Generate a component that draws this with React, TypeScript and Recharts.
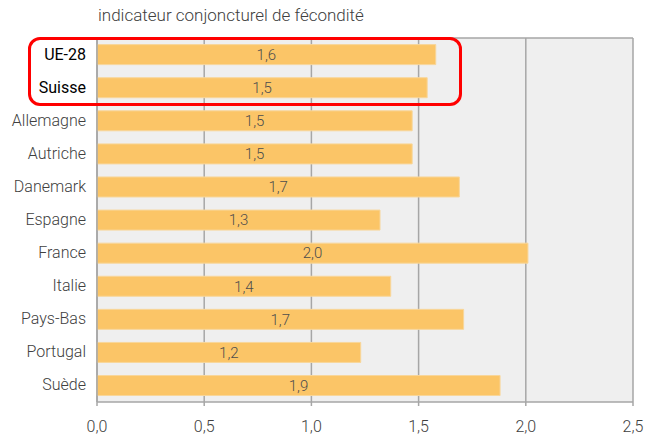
import React from 'react';
import {
  BarChart,
  Bar,
  XAxis,
  YAxis,
  CartesianGrid,
  LabelList,
} from 'recharts';

const countries = [
  'UE-28',
  'Suisse',
  'Allemagne',
  'Autriche',
  'Danemark',
  'Espagne',
  'France',
  'Italie',
  'Pays-Bas',
  'Portugal',
  'Suède',
];
const fertility = [1.58, 1.54, 1.47, 1.47, 1.69, 1.32, 2.01, 1.37, 1.71, 1.23, 1.88];
const highlighted = ['UE-28', 'Suisse'];
const xTicks = [0, 0.5, 1, 1.5, 2, 2.5];

const data = countries.map((country, i) => ({ country, value: fertility[i] }));

const fmt = (v: number) => v.toFixed(1).replace('.', ',');

// Category label, black for the highlighted rows
const CountryTick = ({ x, y, payload }: any) => {
  const hl = highlighted.includes(payload.value);
  return (
    <text
      x={x - 3}
      y={y}
      dy={5}
      textAnchor="end"
      fontSize={16}
      fontFamily="Roboto"
      fontWeight={hl ? 400 : 300}
      fill={hl ? '#000000' : '#404040'}
    >
      {payload.value}
    </text>
  );
};

export default function App(): JSX.Element {
  return (
    <div style={{ position: 'absolute', left: 0, top: 0, width: 645, height: 437, background: '#fff' }}>
      <div
        style={{
          position: 'absolute',
          left: 98,
          top: 5,
          fontFamily: 'Roboto',
          fontWeight: 300,
          fontSize: 17,
          color: '#404040',
          whiteSpace: 'nowrap',
        }}
      >
        indicateur conjoncturel de fécondité
      </div>
      <BarChart
        width={645}
        height={437}
        data={data}
        layout="vertical"
        margin={{ top: 38, right: 12, left: 0, bottom: 0 }}
        barCategoryGap="20%"
      >
        <CartesianGrid
          fill="#efefef"
          stroke="#a6a6a6"
          strokeWidth={1.5}
          horizontalCoordinatesGenerator={({ offset }: any) => [offset.top]}
        />
        <XAxis
          type="number"
          domain={[0, 2.5]}
          ticks={xTicks}
          tickFormatter={fmt}
          height={35}
          stroke="#a6a6a6"
          strokeWidth={1.5}
          tickSize={4}
          tick={{ fill: '#404040', fontSize: 16, fontFamily: 'Roboto', fontWeight: 300, dy: 13 }}
        />
        <YAxis
          type="category"
          dataKey="country"
          width={97}
          stroke="#a6a6a6"
          strokeWidth={1.5}
          tickLine={false}
          tick={<CountryTick />}
        />
        <Bar dataKey="value" fill="#fbc567" stroke="#f8d69a" strokeWidth={1} isAnimationActive={false}>
          <LabelList
            dataKey="value"
            position="center"
            formatter={(v: any) => fmt(Number(v))}
            fill="#4d4d4d"
            fontSize={15}
            fontFamily="Roboto"
            fontWeight={300}
          />
        </Bar>
      </BarChart>
      <div
        style={{
          position: 'absolute',
          left: 28,
          top: 37,
          width: 428,
          height: 63,
          border: '3px solid #ff0000',
          borderRadius: 12,
          pointerEvents: 'none',
        }}
      />
    </div>
  );
}
